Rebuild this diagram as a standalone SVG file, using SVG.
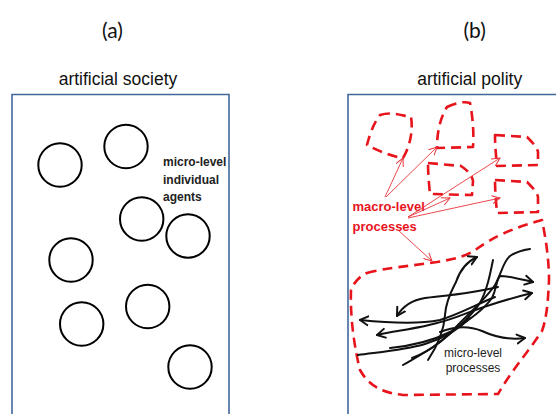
<svg xmlns="http://www.w3.org/2000/svg" width="556" height="414" viewBox="0 0 556 414">
<style>
.frame{fill:none;stroke:#41689c;stroke-width:1.6}
.agent{fill:none;stroke:#000;stroke-width:2}
.paren{font-family:Lato,"Open Sans",sans-serif;font-size:21px;fill:#111;text-anchor:middle}
.title{font-family:"Liberation Sans",Arial,sans-serif;font-size:17.5px;fill:#111;text-anchor:middle}
.lbl{font-family:"Liberation Sans",Arial,sans-serif;font-size:12px;font-weight:bold;fill:#222}
.macro{font-family:"Liberation Sans",Arial,sans-serif;font-size:13px;font-weight:bold;fill:#e8141c}
.micro{font-family:"Liberation Sans",Arial,sans-serif;font-size:12px;fill:#222;text-anchor:middle}
.dash{fill:none;stroke:#e8141c;stroke-width:2.6;stroke-dasharray:10 6;stroke-linejoin:round}
.rarr{fill:none;stroke:#e8343a;stroke-width:0.9;marker-end:url(#rh)}
.barr{fill:none;stroke:#111;stroke-width:2;stroke-linecap:round}
</style>
<defs>
<marker id="rh" markerUnits="userSpaceOnUse" markerWidth="10" markerHeight="10" refX="8" refY="4" orient="auto" viewBox="0 0 10 8">
<path d="M0,0 L8,4 L0,8" fill="none" stroke="#e8343a" stroke-width="1"/>
</marker>
<marker id="bh" markerUnits="userSpaceOnUse" markerWidth="12" markerHeight="12" refX="9" refY="5" orient="auto-start-reverse" viewBox="0 0 12 10">
<path d="M1,0.5 L9,5 L1,9.5" fill="none" stroke="#111" stroke-width="2" stroke-linecap="round" stroke-linejoin="round"/>
</marker>
</defs>
<rect width="556" height="414" fill="#fff"/>

<g id="panel-a">
<text class="paren" x="112.5" y="38">(a)</text>
<text class="title" x="118" y="85">artificial society</text>
<path class="frame" d="M12,420 L12,94.5 L229,94.5 L229,420"/>
</g>
<g id="agents">
<circle id="agent1" class="agent" cx="60" cy="165" r="21.7"/>
<circle id="agent2" class="agent" cx="126" cy="146.5" r="21.7"/>
<circle id="agent3" class="agent" cx="141.7" cy="219" r="21.7"/>
<circle id="agent4" class="agent" cx="188" cy="236" r="21.7"/>
<circle id="agent5" class="agent" cx="71" cy="260" r="21.7"/>
<circle id="agent6" class="agent" cx="147.7" cy="306.5" r="21.7"/>
<circle id="agent7" class="agent" cx="81.7" cy="324" r="21.7"/>
<circle id="agent8" class="agent" cx="190" cy="367" r="21.7"/>
</g>
<g id="agents-label">
<text class="lbl" x="163" y="166">micro-level</text>
<text class="lbl" x="163" y="183.5">individual</text>
<text class="lbl" x="163" y="201">agents</text>
</g>

<g id="panel-b">
<text class="paren" x="474.7" y="38">(b)</text>
<text class="title" x="469.7" y="85">artificial polity</text>
<path class="frame" d="M348,420 L348,94.5 L560,94.5"/>
</g>

<g id="macro-processes">
<path id="macroA" class="dash" d="M380,115 C392,111 403,116 411,117 C413,128 411,145 403,158 C395,157 380,152 367,145 C369,137 372,128 376,121 Z"/>
<path id="macroB" class="dash" d="M447,107 C455,103 464,101 470,103 C473,118 474,135 473,147 L437,148 C437,135 439,120 447,107 Z"/>
<path id="macroC" class="dash" d="M428,163 L461,166 C467,170 472,175 473,181 L472,195 L430,194 C429,185 428,172 428,163 Z"/>
<path id="macroD" class="dash" d="M495,135 L527,137 C532,142 537,147 538,152 L538,165 L497,166 C496,155 495,145 495,135 Z"/>
<path id="macroE" class="dash" d="M495,180 L527,182 C532,187 537,192 538,197 L538,212 L497,213 C496,202 495,190 495,180 Z"/>
<path id="macroF" class="dash" d="M367,273 C385,268 410,266 437,262 C455,259 468,256 478,248 C492,238 512,228 542,220 C546,240 549,260 549,280 C548,305 546,320 542,331 C528,352 512,370 498,394 L403,395 C385,393 370,388 360,370 C355,350 350,320 351,290 C354,282 360,276 367,273 Z"/>
</g>
<g id="macro-label">
<text class="macro" x="352.5" y="211">macro-level</text>
<text class="macro" x="352.5" y="231">processes</text>
</g>

<g id="connectors">
<path class="rarr" d="M385,197 L403,158"/>
<path class="rarr" d="M386,197 L437,147"/>
<path class="rarr" d="M408,217 L450,198"/>
<path class="rarr" d="M408,217 L500,158"/>
<path class="rarr" d="M408,218 L500,198"/>
<path class="rarr" d="M398,230 L432,261"/>

<path class="barr" marker-end="url(#bh)" d="M428,360 C438,345 444,330 445,315 C446,300 452,290 456,282 C460,270 466,262 477,257"/>
<path class="barr" d="M403,365 C420,355 440,345 455,328 C470,312 485,300 495,285 C502,272 503,262 510,256 C516,252 523,250 530,249"/>
<path class="barr" d="M493,260 C490,275 487,290 480,303 C470,318 455,330 440,342 C430,350 420,355 412,358"/>
<path class="barr" marker-end="url(#bh)" d="M498,287 C470,294 440,296 425,298 C412,300 403,306 397,316"/>
<path class="barr" marker-end="url(#bh)" d="M495,297 C475,305 460,314 440,320 C420,324 390,323 360,320"/>
<path class="barr" marker-start="url(#bh)" marker-end="url(#bh)" d="M377,335 C395,331 420,328 437,323 C455,319 470,311 490,305 C505,300 520,296 532,293"/>
<path class="barr" marker-end="url(#bh)" d="M390,348 C410,346 430,342 450,332 C470,320 485,308 492,298 C497,288 496,280 500,276 C510,276 520,279 533,282"/>
<path class="barr" marker-end="url(#bh)" d="M440,332 C455,326 470,326 482,331 C495,337 510,340 525,338"/>
<path class="barr" d="M358,355 C380,352 405,350 425,344 C445,338 460,328 470,318"/>
</g>
<g id="micro-label">
<text class="micro" x="473" y="357">micro-level</text>
<text class="micro" x="473" y="372">processes</text>
</g>
</svg>
